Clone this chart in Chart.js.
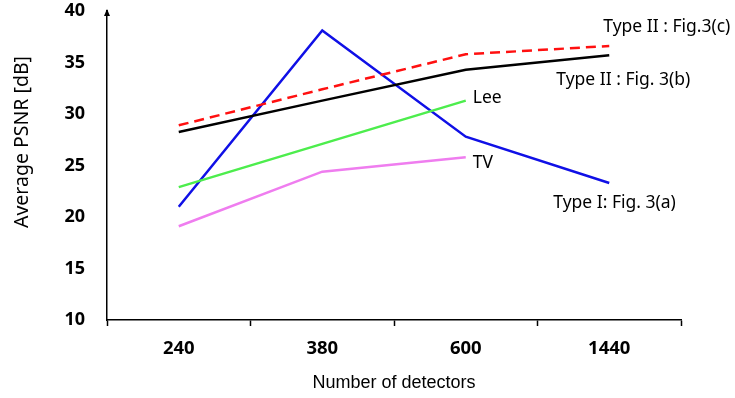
<!DOCTYPE html>
<html>
<head>
<meta charset="utf-8">
<script src="https://cdn.jsdelivr.net/npm/chart.js@4"></script>
<style>
  html, body { margin: 0; padding: 0; background: #fff; }
  #chart { display: block; }
</style>
</head>
<body>
<canvas id="chart" width="735" height="398"></canvas>
<script>
const detectors = ['240', '380', '600', '1440'];
const typeIIc = [28.9, 32.4, 35.8, 36.6];
const typeIIb = [28.25, 31.3, 34.3, 35.7];
const lee = [22.9, 27.1, 31.3, null];
const tv = [19.1, 24.4, 25.8, null];
const typeIa = [21.0, 38.1, 27.8, 23.3];
const yTicks = [10, 15, 20, 25, 30, 35, 40];

const textFont = '"Noto Sans", "Open Sans", sans-serif';

// labels next to line ends: [text, series, index, dx, dy]
const lineLabels = [
  ['Type II : Fig.3(c)', typeIIc, 3, -6, -19],
  ['Type II : Fig. 3(b)', typeIIb, 3, -53, 25],
  ['Lee', lee, 2, 7, -3],
  ['TV', tv, 2, 7, 6],
  ['Type I: Fig. 3(a)', typeIa, 3, -56, 20],
];

const labelPlugin = {
  id: 'lineLabels',
  afterDraw(chart) {
    const { ctx, scales } = chart;
    ctx.save();
    ctx.font = '17.5px ' + textFont;
    ctx.fillStyle = '#000';
    ctx.textBaseline = 'middle';
    ctx.textAlign = 'left';
    for (const [text, data, i, dx, dy] of lineLabels) {
      const x = scales.x.getPixelForValue(i);
      const y = scales.y.getPixelForValue(data[i]);
      ctx.fillText(text, x + dx, y + dy);
    }
    // y axis title, a bit above the middle like the original
    ctx.save();
    ctx.translate(22, 142);
    ctx.rotate(-Math.PI / 2);
    ctx.textAlign = 'center';
    ctx.font = '19.5px ' + textFont;
    ctx.fillText('Average PSNR [dB]', 0, 0);
    ctx.restore();
    // arrow head on the y axis
    const ax = scales.y.right;
    const top = scales.y.top;
    ctx.strokeStyle = '#000';
    ctx.lineWidth = 1.5;
    ctx.beginPath();
    ctx.moveTo(ax, top + 2);
    ctx.lineTo(ax, top - 1);
    ctx.stroke();
    ctx.beginPath();
    ctx.moveTo(ax, top - 2);
    ctx.lineTo(ax - 3, top + 5);
    ctx.lineTo(ax + 3, top + 5);
    ctx.closePath();
    ctx.fillStyle = '#000';
    ctx.fill();
    ctx.restore();
  }
};

function series(data, color, dash) {
  return {
    data: data,
    borderColor: color,
    borderWidth: 2.5,
    borderDash: dash || [],
    pointRadius: 0,
    fill: false,
    tension: 0,
    spanGaps: false,
  };
}

new Chart(document.getElementById('chart'), {
  type: 'line',
  data: {
    labels: detectors,
    datasets: [
      series(typeIIc, '#ff1010', [10, 6]),
      series(typeIIb, '#000000'),
      series(lee, '#4ded4d'),
      series(tv, '#ef7def'),
      series(typeIa, '#1010e6'),
    ],
  },
  options: {
    responsive: false,
    animation: false,
    devicePixelRatio: 1,
    layout: { padding: { left: 0, right: 54, top: 11, bottom: 0 } },
    plugins: { legend: { display: false }, tooltip: { enabled: false } },
    scales: {
      x: {
        type: 'category',
        offset: true,
        grid: {
          offset: true,
          drawOnChartArea: false,
          drawTicks: true,
          tickLength: 6,
          tickColor: '#000',
          tickWidth: 1.5,
        },
        border: { color: '#000', width: 1.5 },
        ticks: {
          color: '#000',
          font: { family: textFont, size: 18.5, weight: 'bold' },
          padding: 12,
          maxRotation: 0,
        },
        title: {
          display: true,
          text: 'Number of detectors',
          color: '#000',
          font: { family: '"Liberation Sans", Arial, sans-serif', size: 18 },
          padding: { top: 0, bottom: 4 },
        },
        afterFit(scale) {
          scale.height = 78;
          scale.paddingLeft = 0;
          scale.paddingRight = 0;
        },
      },
      y: {
        min: 10,
        max: 40,
        afterBuildTicks(scale) { scale.ticks = yTicks.map(v => ({ value: v })); },
        grid: { display: false, drawTicks: false },
        border: { color: '#000', width: 1.5 },
        ticks: {
          color: '#000',
          font: { family: textFont, size: 18, weight: 'bold' },
          padding: 22,
        },
        title: { display: false },
        afterFit(scale) {
          scale.width = 107;
          scale.paddingTop = 0;
          scale.paddingBottom = 0;
        },
      },
    },
  },
  plugins: [labelPlugin],
});
</script>
</body>
</html>
